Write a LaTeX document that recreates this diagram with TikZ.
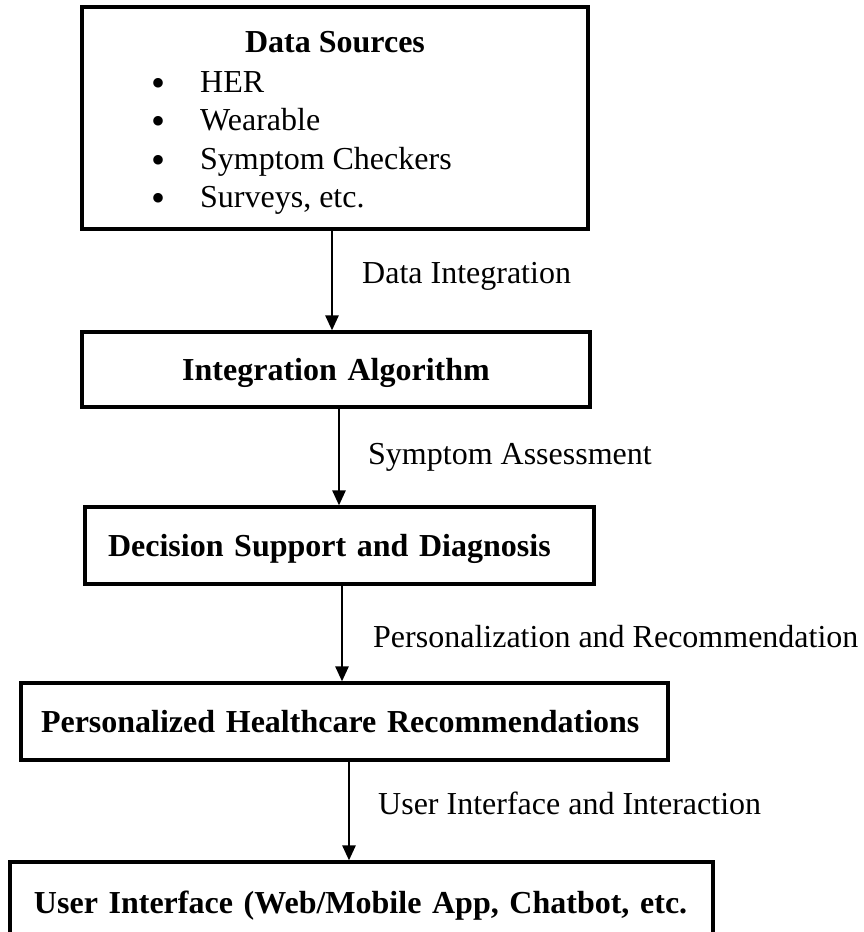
\documentclass[tikz,border=0pt]{standalone}
\usepackage{fontspec}
\setmainfont{Liberation Serif}
\usetikzlibrary{arrows.meta}
\newcommand{\bigbullet}{\makebox[48.5pt][l]{\raisebox{-4pt}{\scalebox{1.25}{\textbullet}}}}
\begin{document}
\begin{tikzpicture}[x=1pt,y=-1pt,
  box/.style={draw, line width=3.3pt, outer sep=0pt, anchor=north west,
    inner ysep=0pt, text depth=0pt, font=\bfseries\fontsize{32}{38.5}\selectfont},
  flow/.style={line width=2.6pt, -{Triangle[length=15pt,width=13pt]}, shorten >=1.6pt},
  lab/.style={anchor=west, inner sep=0pt, font=\fontsize{32}{38.5}\selectfont},
  item/.style={anchor=base west, inner sep=0pt, font=\fontsize{32}{38.5}\selectfont}
]
\useasboundingbox (0,0) rectangle (863,932);
\clip (0,0) rectangle (863,932);

% Data sources box with its title and bullet list
\node[box, minimum width=506pt, minimum height=222pt] (src) at (82,7) {};
\node[anchor=base, inner sep=0pt, font=\bfseries\fontsize{32}{38.5}\selectfont]
  (srctitle) at (335,52) {Data Sources};
\foreach \i/\t/\yb in {1/HER/92, 2/Wearable/130.5, 3/Symptom Checkers/169, 4/{Surveys, etc.}/207.5}{
  \node[item] (itm\i) at (151.5,\yb) {\bigbullet\t};
}

% Processing stages
\node[box, text width=488pt, inner xsep=10pt, align=center, minimum height=75pt]
  (alg) at (82,332) {Integration Algorithm};
\node[box, text width=463pt, inner xsep=23pt, align=left, minimum height=77pt]
  (dss) at (85,507) {Decision Support and Diagnosis};
\node[box, text width=607pt, inner xsep=20pt, align=left, minimum height=77pt]
  (phr) at (21,683) {Personalized Healthcare Recommendations};
\node[box, text width=655pt, inner xsep=24pt, align=left, minimum height=80pt]
  (ui) at (10,862) {User Interface (Web/Mobile App, Chatbot, etc.};

% Connector columns
\coordinate (c1) at (332,0);
\coordinate (c2) at (339,0);
\coordinate (c3) at (342,0);
\coordinate (c4) at (349,0);

\draw[flow] (src.south -| c1) -- (alg.north -| c1);
\draw[flow] (alg.south -| c2) -- (dss.north -| c2);
\draw[flow] (dss.south -| c3) -- (phr.north -| c3);
\draw[flow] (phr.south -| c4) -- (ui.north -| c4);

% Connector labels
\node[lab] (l1) at (362,276) {Data Integration};
\node[lab] (l2) at (368,457) {Symptom Assessment};
\node[lab] (l3) at (373,637) {Personalization and Recommendation};
\node[lab] (l4) at (378,803) {User Interface and Interaction};
\end{tikzpicture}
\end{document}
